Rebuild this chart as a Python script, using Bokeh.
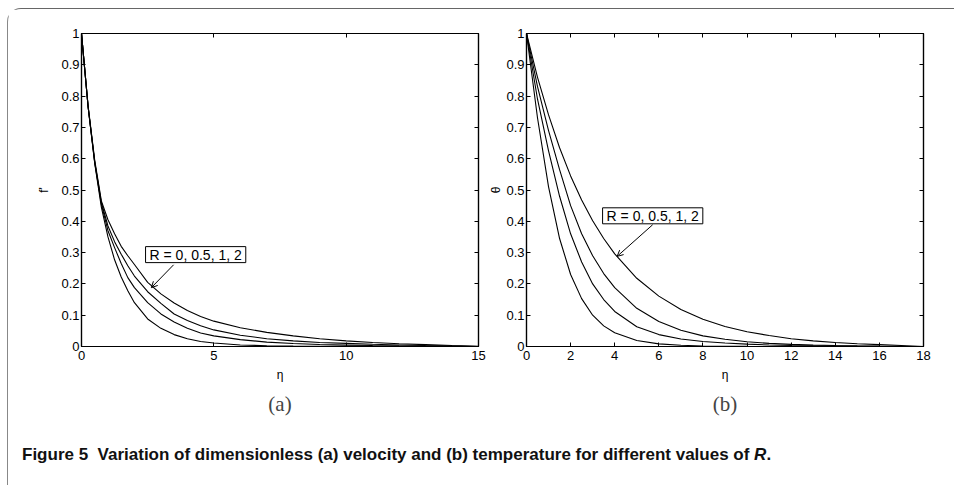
from bokeh.plotting import figure
from bokeh.models import (LinearAxis, FixedTicker, Label, Arrow, OpenHead, Title, Div, Range1d,
                          CustomJSTickFormatter)
from bokeh.layouts import column, row
from bokeh.embed import file_html
from bokeh.resources import INLINE

# ---------------- data ----------------
eta_a = [0, 0.25, 0.5, 0.75, 1, 1.25, 1.5, 1.75, 2, 2.5, 3, 3.5, 4, 4.5, 5, 6, 7, 8, 9, 10, 11, 12, 13, 14, 15]
fp_R0 = [1, 0.765, 0.585, 0.445, 0.35, 0.277, 0.222, 0.178, 0.14, 0.088, 0.058, 0.038, 0.025, 0.016, 0.011,
         0.005, 0.0025, 0.0012, 0.0006, 0.0003, 0.0001, 0, 0, 0, 0]
fp_R05 = [1, 0.765, 0.587, 0.455, 0.37, 0.316, 0.265, 0.22, 0.188, 0.14, 0.104, 0.078, 0.058, 0.043, 0.034,
          0.022, 0.014, 0.0095, 0.0065, 0.0045, 0.003, 0.002, 0.0012, 0.0006, 0]
fp_R1 = [1, 0.766, 0.59, 0.46, 0.385, 0.335, 0.295, 0.258, 0.225, 0.175, 0.138, 0.104, 0.083, 0.066, 0.053,
         0.036, 0.025, 0.018, 0.013, 0.01, 0.007, 0.005, 0.003, 0.0015, 0]
fp_R2 = [1, 0.768, 0.595, 0.465, 0.405, 0.36, 0.32, 0.29, 0.262, 0.205, 0.168, 0.139, 0.115, 0.096, 0.081,
         0.06, 0.045, 0.034, 0.025, 0.018, 0.013, 0.009, 0.006, 0.003, 0.001]

eta_b = [0, 0.5, 1, 1.5, 2, 2.5, 3, 3.5, 4, 5, 6, 7, 8, 9, 10, 11, 12, 13, 14, 15, 16, 17, 18]
th_R0 = [1, 0.73, 0.51, 0.345, 0.23, 0.153, 0.1, 0.066, 0.044, 0.019, 0.0085, 0.0038, 0.0017, 0.0008,
         0.0003, 0.0001, 0, 0, 0, 0, 0, 0, 0]
th_R05 = [1, 0.79, 0.625, 0.48, 0.36, 0.27, 0.2, 0.15, 0.112, 0.063, 0.038, 0.024, 0.016, 0.011, 0.0075,
          0.005, 0.0032, 0.002, 0.0012, 0.0007, 0.0004, 0.0002, 0]
th_R1 = [1, 0.83, 0.69, 0.565, 0.45, 0.36, 0.29, 0.233, 0.188, 0.122, 0.08, 0.052, 0.034, 0.023, 0.015,
         0.01, 0.0068, 0.0045, 0.003, 0.002, 0.0012, 0.0005, 0]
th_R2 = [1, 0.86, 0.74, 0.635, 0.545, 0.468, 0.402, 0.345, 0.296, 0.218, 0.161, 0.118, 0.087, 0.064, 0.047,
         0.035, 0.025, 0.018, 0.013, 0.009, 0.006, 0.003, 0]

y_ticks = [0, 0.1, 0.2, 0.3, 0.4, 0.5, 0.6, 0.7, 0.8, 0.9, 1]
x_ticks_a = [0, 5, 10, 15]
x_ticks_b = [0, 2, 4, 6, 8, 10, 12, 14, 16, 18]
annot_text = "R = 0, 0.5, 1, 2"

FONT = "Liberation Sans"


def style_axis(ax, ticks, show_labels=True):
    ax.ticker = FixedTicker(ticks=ticks)
    ax.major_tick_in = 4
    ax.major_tick_out = 0
    ax.minor_tick_in = 0
    ax.minor_tick_out = 0
    ax.axis_line_color = "black"
    ax.axis_line_width = 1.2
    ax.major_tick_line_color = "black"
    ax.major_tick_line_width = 1
    ax.major_label_text_font = FONT
    ax.major_label_text_color = "black"
    ax.axis_label_text_font = FONT
    ax.axis_label_text_font_style = "normal"
    ax.axis_label_text_color = "black"
    ax.major_label_text_font_size = "13px"
    ax.axis_label_text_font_size = "12px"
    if not show_labels:
        ax.formatter = CustomJSTickFormatter(code="return ''")
        ax.major_label_standoff = 0


def make_panel(xs, ys_list, xmax, xticks, ylabel, sub, min_left, min_right,
               box_xy, arrow_xy, ylab_standoff):
    p = figure(frame_width=397, frame_height=313, output_backend="svg", toolbar_location=None,
               x_range=Range1d(0, xmax), y_range=Range1d(0, 1),
               min_border_left=min_left, min_border_right=min_right,
               min_border_top=24, min_border_bottom=74, x_axis_location=None, y_axis_location=None)
    p.grid.visible = False
    p.outline_line_color = "black"
    p.outline_line_width = 1.2
    p.background_fill_color = "white"
    p.border_fill_color = "white"

    left = LinearAxis(axis_label=ylabel)
    style_axis(left, y_ticks)
    left.major_label_overrides = {0: "0", 1: "1"}
    left.major_label_standoff = 2
    left.axis_label_standoff = ylab_standoff
    p.add_layout(left, "left")

    bottom = LinearAxis(axis_label="η")
    style_axis(bottom, xticks)
    bottom.major_label_standoff = 4
    bottom.axis_label_standoff = 5
    p.add_layout(bottom, "below")

    right = LinearAxis()
    style_axis(right, y_ticks, show_labels=False)
    p.add_layout(right, "right")
    top = LinearAxis()
    style_axis(top, xticks, show_labels=False)
    p.add_layout(top, "above")

    for ys in ys_list:
        p.line(xs, ys, line_color="black", line_width=1.1)

    p.add_layout(Title(text=sub, align="center", text_font="Liberation Serif",
                       text_font_size="21px", text_font_style="normal", standoff=10), "below")

    bx, by = box_xy
    p.add_layout(Label(x=bx, y=by, text=annot_text, text_font=FONT, text_font_size="14px",
                       text_color="black", text_baseline="bottom", text_align="left",
                       background_fill_color="white", border_line_color="black",
                       border_line_width=1, padding=(4, 0)))
    (x0, y0), (x1, y1) = arrow_xy
    p.add_layout(Arrow(x_start=x0, y_start=y0, x_end=x1, y_end=y1, line_width=1, line_color="black",
                       end=OpenHead(size=6, line_width=1, line_color="black")))
    return p


pa = make_panel(eta_a, [fp_R0, fp_R05, fp_R1, fp_R2], 15, x_ticks_a, "f'", "(a)", 73, 8,
                (2.42, 0.268), ((3.48, 0.261), (2.64, 0.188)), 7)
pb = make_panel(eta_b, [th_R0, th_R05, th_R1, th_R2], 18, x_ticks_b, "θ", "(b)", 39, 20,
                (3.45, 0.392), ((5.72, 0.389), (4.11, 0.288)), 0)

caption = Div(text='<span style="font-weight:bold">Figure 5&nbsp; Variation of dimensionless (a) velocity '
                   'and (b) temperature for different values of <i>R</i>.</span>',
              width=945, height=64,
              styles={"font-family": "'Liberation Sans Narrow', 'Liberation Sans', sans-serif",
                      "font-size": "17px", "color": "#111", "padding-left": "9px",
                      "padding-top": "18px"})

layout = column(row(pa, pb), caption, margin=(8, 0, 0, 7),
                styles={"border-top": "1.5px solid #666", "border-left": "1.5px solid #888",
                        "border-top-left-radius": "14px"})

open("out.html", "w").write(file_html(layout, INLINE))
